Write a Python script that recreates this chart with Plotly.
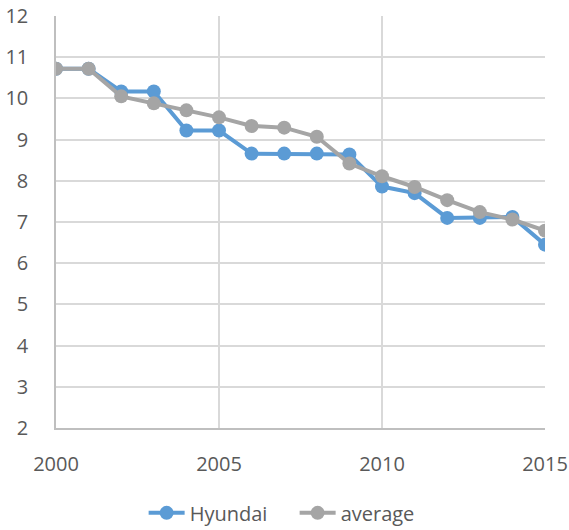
import plotly.graph_objects as go

years = list(range(2000, 2016))
hyundai = [10.72, 10.72, 10.17, 10.17, 9.22, 9.22, 8.66, 8.66, 8.66, 8.64,
           7.86, 7.70, 7.10, 7.10, 7.12, 6.45]
average = [10.72, 10.72, 10.05, 9.88, 9.71, 9.54, 9.33, 9.29, 9.07, 8.42,
           8.11, 7.85, 7.53, 7.24, 7.06, 6.79]

font = "Open Sans"
txt = "#595959"
grid = "#d9d9d9"

fig = go.Figure()
fig.add_trace(go.Scatter(x=years, y=hyundai, name="Hyundai", mode="lines+markers",
                         line=dict(color="#5B9BD5", width=4),
                         marker=dict(size=14, color="#5B9BD5")))
fig.add_trace(go.Scatter(x=years, y=average, name="average", mode="lines+markers",
                         line=dict(color="#A5A5A5", width=4),
                         marker=dict(size=14, color="#A5A5A5")))

fig.update_layout(
    width=569, height=530,
    margin=dict(l=56, r=24, t=16, b=102, autoexpand=False),
    paper_bgcolor="white", plot_bgcolor="white",
    font=dict(family=font, size=20, color=txt),
    showlegend=True,
    legend=dict(orientation="h", x=0.488, xanchor="center", y=-0.206, yanchor="middle",
                font=dict(size=20, color=txt), entrywidth=100, entrywidthmode="pixels",
                itemwidth=36),
    xaxis=dict(range=[2000, 2015], tickvals=[2000, 2005, 2010, 2015],
               showgrid=True, gridcolor=grid, gridwidth=1.5,
               showline=True, linecolor="#bfbfbf", linewidth=1.5,
               zeroline=False, ticks="", ticklabelstandoff=17, automargin=False),
    yaxis=dict(range=[2, 12], dtick=1,
               showgrid=True, gridcolor=grid, gridwidth=1.5,
               showline=True, linecolor="#bfbfbf", linewidth=1.5,
               zeroline=False, ticks="", ticklabelstandoff=22, automargin=False),
)

fig.write_html("out.html", config={"displayModeBar": False},
               post_script="document.body.style.margin='0';document.body.style.overflow='hidden';")
